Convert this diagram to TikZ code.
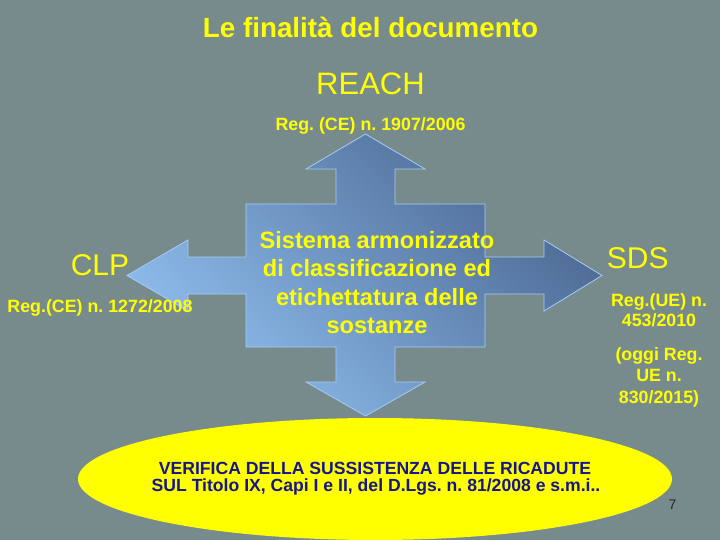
\documentclass[tikz,border=0pt]{standalone}
\usepackage{fontspec}
\setmainfont{Liberation Sans}
\frenchspacing
\definecolor{slide}{RGB}{119,139,141}
\definecolor{txtyellow}{RGB}{255,255,0}
\definecolor{arrowlight}{RGB}{143,190,238}
\definecolor{arrowdark}{RGB}{76,104,146}
\definecolor{arrowedge}{RGB}{165,205,245}
\definecolor{navytext}{RGB}{22,22,140}

\begin{document}
\begin{tikzpicture}[x=1pt,y=-1pt,
        yel/.style={text=txtyellow,anchor=base,inner sep=0pt},
        regtext/.style={yel,font=\fontsize{17.8}{20}\selectfont\bfseries},
        bigname/.style={yel,font=\fontsize{30}{32}\selectfont},
        centretext/.style={yel,font=\fontsize{23.6}{26}\selectfont\bfseries},
        ellipsetext/.style={text=navytext,anchor=base,inner sep=0pt,font=\fontsize{17.6}{20}\selectfont\bfseries}]
        \useasboundingbox (0,0) rectangle (720,540);
        \fill[slide] (0,0) rectangle (720,540);
        % heading
        \node[yel,font=\fontsize{27.8}{30}\selectfont\bfseries] (title) at (370.5,37.3) {Le finalità del documento};
        \node[yel,font=\fontsize{31}{33}\selectfont] (reach) at (370.5,94.3) {REACH};
        \node[regtext] (reachreg) at (370.5,130.7) {Reg. (CE) n. 1907/2006};
        % four-way arrow
        \draw[arrowedge,line width=0.8pt,top color=arrowdark,bottom color=arrowlight,shading angle=-45]
            (365.5,134) -- (425,169) -- (395,169) -- (395,204) -- (485,204) -- (485,257)
            -- (544,257) -- (544,240) -- (602,275.5) -- (544,311) -- (544,294) -- (485,294)
            -- (485,347) -- (395,347) -- (395,382) -- (425,382) -- (365.5,416) -- (306,382)
            -- (336,382) -- (336,347) -- (246,347) -- (246,294) -- (188,294) -- (188,311)
            -- (127,275.5) -- (188,240) -- (188,257) -- (246,257) -- (246,204) -- (336,204)
            -- (336,169) -- (306,169) -- cycle;
        \foreach \txt [count=\i] in {Sistema armonizzato, di classificazione ed, etichettatura delle, sostanze}
            \node[centretext] (sistema\i) at (377,248.3+28.4*\i-28.4) {\txt};
        % left
        \node[bigname] (clp) at (100,275.7) {CLP};
        \node[regtext] (clpreg) at (100,312.7) {Reg.(CE) n. 1272/2008};
        % right
        \node[bigname] (sds) at (637.7,268.3) {SDS};
        \node[regtext] (sdsreg) at (659,306) {Reg.(UE) n.};
        \node[regtext] (sdsnum) at (659,326.7) {453/2010};
        \node[regtext] (oggi) at (659,360.7) {(oggi Reg.};
        \node[regtext] (oggiue) at (659,381.7) {UE n.};
        \node[regtext] (oggnum) at (659,403.3) {830/2015)};
        % ellipse
        \fill[txtyellow] (375,479) ellipse [x radius=297,y radius=61];
        \node[ellipsetext] (verifica) at (375,474) {VERIFICA DELLA SUSSISTENZA DELLE RICADUTE};
        \node[ellipsetext] (titolo) at (376,491.7) {SUL Titolo IX, Capi I e II, del D.Lgs. n. 81/2008 e s.m.i..};
        \node[anchor=base,inner sep=0pt,font=\fontsize{14}{16}\selectfont,text=black!85] (page) at (672.5,509) {7};
\end{tikzpicture}
\end{document}
